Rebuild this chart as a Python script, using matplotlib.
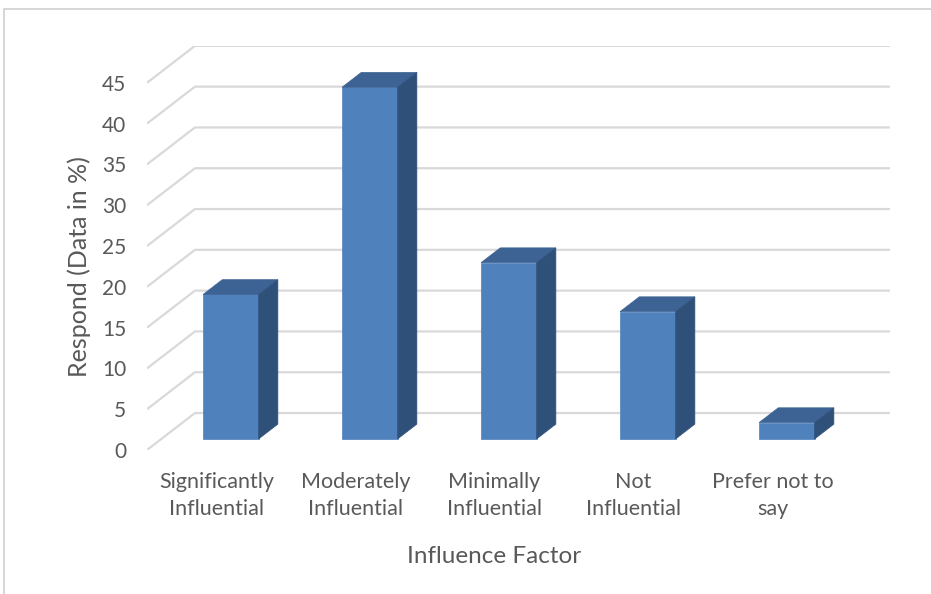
import matplotlib.pyplot as plt
from matplotlib.patches import Polygon, Rectangle

# survey responses per influence level (percent)
categories = ["Significantly\nInfluential", "Moderately\nInfluential",
              "Minimally\nInfluential", "Not\nInfluential", "Prefer not to\nsay"]
responses = [17.7, 43.1, 21.6, 15.6, 2.0]
y_ticks = [0, 5, 10, 15, 20, 25, 30, 35, 40, 45]

# --- pseudo-3D geometry (data units) ---
DX, DY = 0.345, 4.53      # offset from front plane to back wall
BAR_W = 0.4               # bar width along the category axis
DEPTH0, DEPTH1 = 0.3, 0.7 # bar depth span (fraction of floor depth)

FRONT = "#4F81BD"
TOP = "#3C6393"
SIDE = "#2F5179"
GRID = "#D9D9D9"
TEXT = "#595959"

plt.rcParams['font.family'] = ['Lato', 'DejaVu Sans']

W, H = 931, 594
PX_X, PX_Y = 139.0, 8.16   # pixels per category / per value unit
x_left_px, y_zero_px = 147, 450

fig = plt.figure(figsize=(W / 100, H / 100), dpi=100)
xmax = len(categories) + DX
ymax = max(y_ticks) + DY
ax = fig.add_axes([x_left_px / W, (H - y_zero_px) / H,
                   xmax * PX_X / W, ymax * PX_Y / H])
ax.set_xlim(0, xmax)
ax.set_ylim(0, ymax)
ax.patch.set_visible(False)
for s in ax.spines.values():
    s.set_visible(False)

# bent gridlines: floor diagonal + back wall
for v in y_ticks:
    ax.plot([0, DX, len(categories) + DX], [v, v + DY, v + DY],
            color=GRID, lw=1.6, zorder=1, solid_capstyle='butt')

# columns
d = DEPTH1 - DEPTH0
for i, v in enumerate(responses):
    x0 = i + 0.5 - BAR_W / 2 + DEPTH0 * DX
    x1 = x0 + BAR_W
    y0 = DEPTH0 * DY
    y1 = y0 + v
    ox, oy = d * DX, d * DY
    ax.add_patch(Polygon([(x0, y0), (x1, y0), (x1, y1), (x0, y1)],
                         closed=True, fc=FRONT, ec=FRONT, lw=0.5, zorder=3))
    ax.add_patch(Polygon([(x0, y1), (x1, y1), (x1 + ox, y1 + oy), (x0 + ox, y1 + oy)],
                         closed=True, fc=TOP, ec=TOP, lw=0.5, zorder=3))
    ax.add_patch(Polygon([(x1, y0), (x1 + ox, y0 + oy), (x1 + ox, y1 + oy), (x1, y1)],
                         closed=True, fc=SIDE, ec=SIDE, lw=0.5, zorder=3))

ax.set_yticks(y_ticks)
ax.set_yticklabels([str(t) for t in y_ticks])
ax.set_xticks([i + 0.5 for i in range(len(categories))])
ax.set_xticklabels(categories, linespacing=1.42)
ax.tick_params(axis='y', length=0, pad=15, labelsize=15, labelcolor=TEXT)
ax.tick_params(axis='x', length=0, pad=16, labelsize=15.5, labelcolor=TEXT)

ax.text(len(categories) / 2, -13.1, "Influence Factor", ha='center', va='center',
        fontsize=17.5, color=TEXT)
ax.text(-0.49, max(y_ticks) / 2, "Respond (Data in %)", ha='center', va='center',
        rotation=90, fontsize=18, color=TEXT)

# chart-area border (left and top edges only within the frame)
fig.patches.append(Rectangle((4 / W, -0.5), 2, 1.5 - 9 / H, transform=fig.transFigure,
                             fill=False, ec="#D0D0D0", lw=1.2, zorder=0))

fig.savefig("out.png", dpi=100)
